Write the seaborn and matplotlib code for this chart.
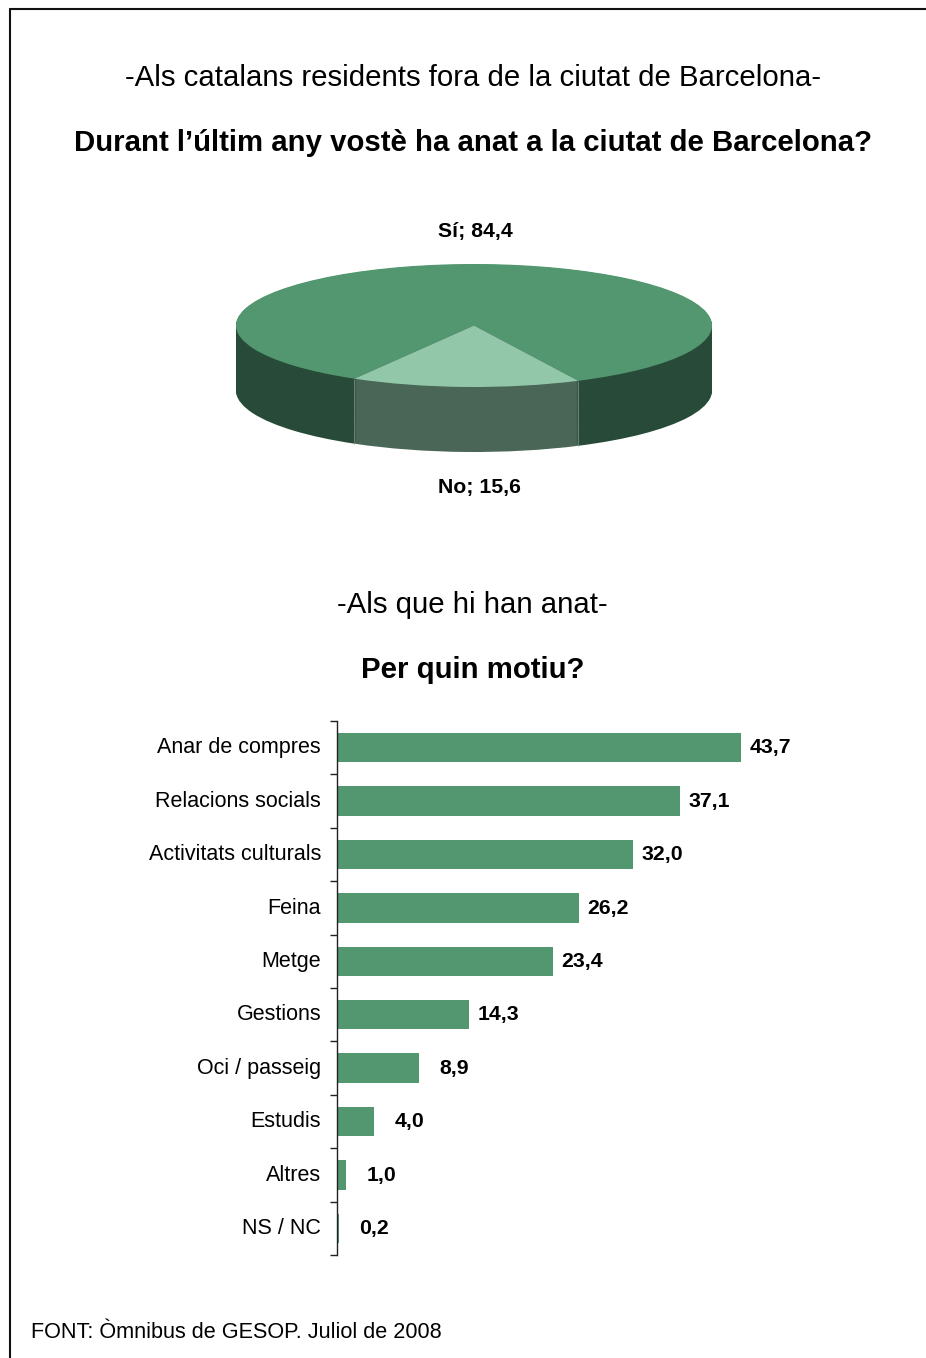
import numpy as np
import pandas as pd
import matplotlib
matplotlib.use("Agg")
import matplotlib.pyplot as plt
from matplotlib.lines import Line2D
import seaborn as sns

# Survey results (percentages)
answer_labels = ["Sí", "No"]
answer_values = [84.4, 15.6]
reasons = ["Anar de compres", "Relacions socials", "Activitats culturals", "Feina", "Metge",
           "Gestions", "Oci / passeig", "Estudis", "Altres", "NS / NC"]
reason_values = [43.7, 37.1, 32.0, 26.2, 23.4, 14.3, 8.9, 4.0, 1.0, 0.2]

W, H = 926, 1358
GREEN = "#52976F"
GREEN_LIGHT = "#92C7AA"
SIDE_DARK = "#274B38"
SIDE_LIGHT = "#4A6657"

sns.set_theme(style="white")
plt.rcParams["font.family"] = ["Liberation Sans", "DejaVu Sans"]
fig = plt.figure(figsize=(W / 100, H / 100), dpi=100, facecolor="white")


def fx(px):
    return px / W


def fy(py):
    return 1 - py / H


def rect(left, top, right, bottom):
    return [fx(left), fy(bottom), fx(right) - fx(left), fy(top) - fy(bottom)]


def label(x, y, s, size, weight="normal", ha="center"):
    fig.text(fx(x), fy(y), s, fontsize=size, fontweight=weight, ha=ha, va="center", color="black")


# Page frame: left and top rules only
fig.add_artist(Line2D([fx(10), fx(10)], [0, fy(9)], color="#111111", lw=1.5))
fig.add_artist(Line2D([fx(10), 1], [fy(9), fy(9)], color="#111111", lw=1.5))

# Headings
label(472.5, 78, "-Als catalans residents fora de la ciutat de Barcelona-", 21.15)
label(473, 143, "Durant l’últim any vostè ha anat a la ciutat de Barcelona?", 21.15, "bold")
label(472.5, 605, "-Als que hi han anat-", 21.15)
label(473, 670, "Per quin motiu?", 21.15, "bold")

# Extruded pie: stacked dark layers topped by the lit face
ax_pie = fig.add_axes(rect(236, 256, 712, 461))
ry = 61.5
depth = 65 / ry
start = 296
props = dict(linewidth=0)
for d in np.linspace(depth, 0.01, 70):
    ax_pie.pie(answer_values, startangle=start, center=(0, -d),
               colors=[SIDE_DARK, SIDE_LIGHT], wedgeprops=props)
# Pale seams where the smaller slice's wall meets the larger one
for boundary in (start, start - answer_values[1] * 3.6):
    a = np.radians(boundary)
    ax_pie.plot([np.cos(a)] * 2, [np.sin(a), np.sin(a) - depth], color="#84998E", lw=0.5, zorder=5)
ax_pie.pie(answer_values, startangle=start, colors=[GREEN, GREEN_LIGHT],
           wedgeprops=dict(linewidth=0, zorder=6))
ax_pie.set_aspect("auto")
ax_pie.set_xlim(-1, 1)
ax_pie.set_ylim(-135.5 / ry, 69.5 / ry)
ax_pie.axis("off")

label(475.5, 232, f"{answer_labels[0]}; {answer_values[0]:.1f}".replace(".", ","), 15.3, "bold")
label(479.5, 487, f"{answer_labels[1]}; {answer_values[1]:.1f}".replace(".", ","), 15.3, "bold")

# Horizontal bars for the reasons
ax_bar = fig.add_axes(rect(337, 721, 926, 1255))
df = pd.DataFrame({"motiu": reasons, "valor": reason_values})
sns.barplot(data=df, x="valor", y="motiu", color=GREEN, saturation=1, width=0.55,
            linewidth=0, ax=ax_bar)
ax_bar.set_xlim(0, (926 - 337) / (404 / 43.7))
ax_bar.set_ylim(len(reasons) - 0.5, -0.5)
ax_bar.set_xlabel("")
ax_bar.set_ylabel("")
ax_bar.set_xticks([])
ax_bar.set_yticks(np.arange(len(reasons) + 1) - 0.5, minor=False)
ax_bar.set_yticklabels([])
ax_bar.tick_params(axis="y", length=5, width=1, color="#222222", left=True)
for name in ("top", "right", "bottom"):
    ax_bar.spines[name].set_visible(False)
ax_bar.spines["left"].set_color("#222222")
ax_bar.spines["left"].set_linewidth(1)
for i, (name, val) in enumerate(zip(reasons, reason_values)):
    ax_bar.annotate(name, (0, i), xytext=(-11.5, -0.2), textcoords="offset points",
                    ha="right", va="center", fontsize=15.5, color="black")
    # Short bars get their value set further out
    pad = 14.8 if val < 10 else 6
    ax_bar.annotate(f"{val:.1f}".replace(".", ","), (val, i), xytext=(pad, -0.2),
                    textcoords="offset points", ha="left", va="center",
                    fontsize=15.3, fontweight="bold", color="black")

label(31, 1332.5, "FONT: Òmnibus de GESOP. Juliol de 2008", 15.55, ha="left")

fig.savefig("out.png", dpi=100, facecolor="white")
